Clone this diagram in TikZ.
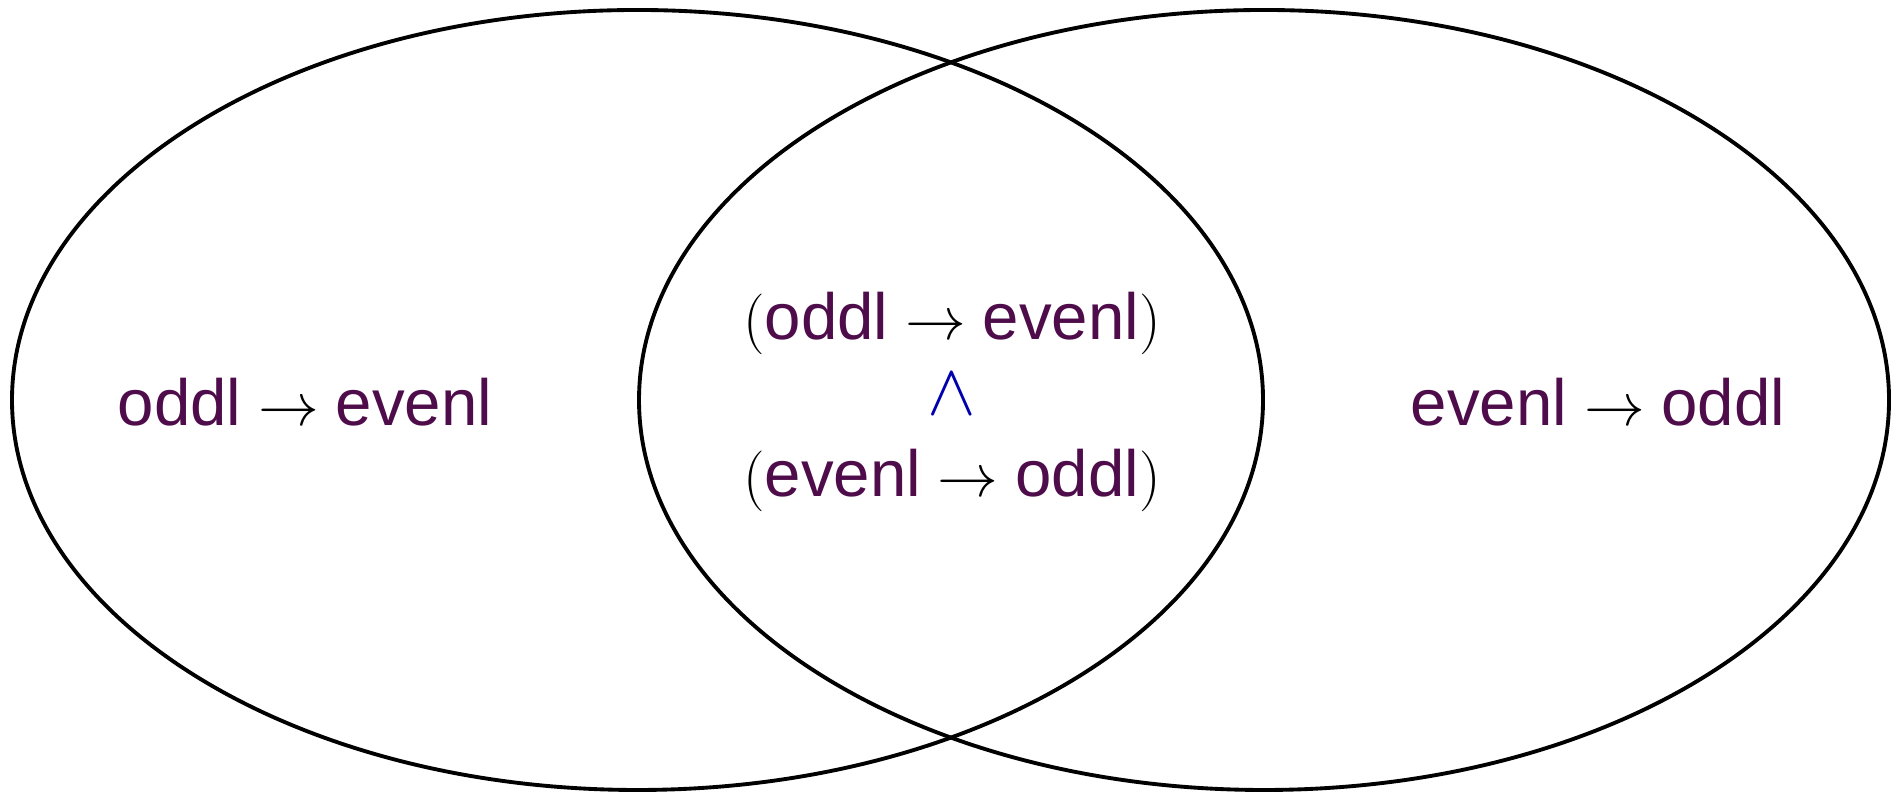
\documentclass[tikz,border=0pt]{standalone}
\usepackage[no-math]{fontspec}
\setmainfont{Liberation Sans}
\usepackage{xcolor}
\definecolor{termcol}{RGB}{78,12,74}
\definecolor{andcol}{RGB}{0,0,175}
\newcommand{\tm}[1]{\textcolor{termcol}{#1}}

\begin{document}
\begin{tikzpicture}[
    venn/.style={line width=1.1pt},
    term/.style={inner sep=0pt, anchor=base, font=\fontsize{18.6}{22}\selectfont}]
            \useasboundingbox (0,0) rectangle (18.92,7.92);

            % The two sets
            \draw[venn] (6.375,3.92) ellipse (6.255 and 3.9);
            \draw[venn] (12.64,3.92) ellipse (6.25 and 3.9);

            % Left only
            \node[term] (lonly) at (3.05,3.66) {\tm{oddl}${}\to{}$\tm{evenl}};

            % Right only
            \node[term] (ronly) at (15.98,3.66) {\tm{evenl}${}\to{}$\tm{oddl}};

            % Overlap
            \node[term] (both1) at (9.52,4.52) {$($\tm{oddl}${}\to{}$\tm{evenl}$)$};
            \node[font=\fontsize{22}{26}\selectfont, text=andcol, inner sep=0pt] (conj) at (9.52,3.98) {$\wedge$};
            \node[term] (both2) at (9.52,2.95) {$($\tm{evenl}${}\to{}$\tm{oddl}$)$};
        \end{tikzpicture}
\end{document}
